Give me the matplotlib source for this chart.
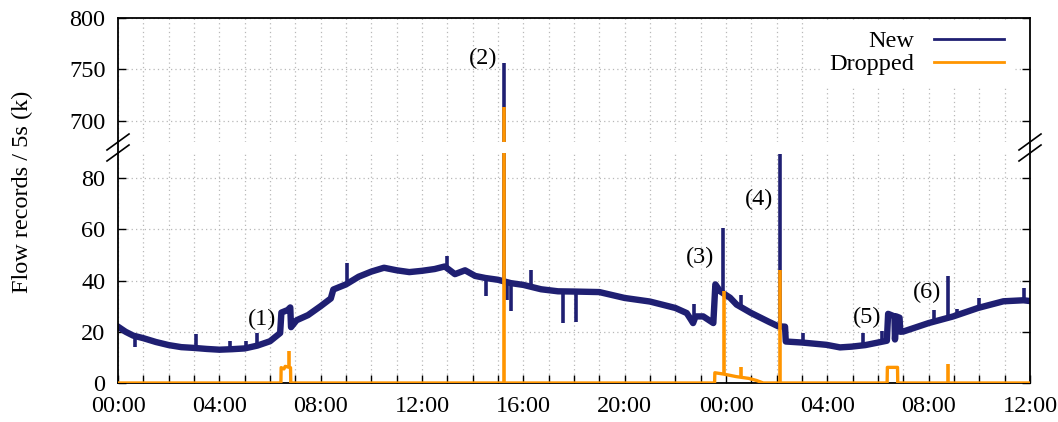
import matplotlib
matplotlib.use("Agg")
import matplotlib.pyplot as plt
from matplotlib.lines import Line2D
from matplotlib.patches import Polygon

plt.rcParams['font.family'] = ['Liberation Serif', 'DejaVu Serif']

# hours since 00:00 of day 1, values in thousands of flow records per 5 s
new_t = [0.0, 0.3, 0.6, 1.0, 1.5, 2.0, 2.5, 3.0, 3.5, 4.0, 4.5, 5.0, 5.5, 6.0, 6.4,
         6.45, 6.7, 6.8, 6.83, 7.05, 7.5, 8.0, 8.4, 8.5, 9.0, 9.5, 10.0, 10.5, 11.0,
         11.5, 12.0, 12.5, 12.9, 13.3, 13.7, 14.1, 14.5, 15.0, 15.5, 16.0, 16.7, 17.37,
         18.04, 19.0, 20.0, 21.0, 22.0, 22.45, 22.6, 22.7, 22.8, 23.1, 23.5, 23.58,
         23.77, 24.16, 24.42, 25.0, 25.67, 26.07, 26.33, 26.36, 27.0, 27.97, 28.5,
         28.96, 29.5, 30.0, 30.35, 30.4, 30.65, 30.67, 30.72, 30.85, 30.88, 31.0, 32.0,
         32.97, 33.95, 34.95, 35.74, 36.0]
new_v = [22.0, 20.0, 18.5, 17.5, 16.0, 14.8, 14.0, 13.7, 13.3, 13.0, 13.2, 13.5, 14.6,
         16.3, 19.5, 27.5, 28.5, 29.5, 21.8, 24.5, 26.5, 30.0, 33.0, 36.5, 38.5, 41.5,
         43.5, 45.0, 44.0, 43.3, 43.8, 44.5, 45.5, 42.5, 44.0, 41.8, 41.0, 40.3, 39.0,
         38.3, 36.6, 35.8, 35.7, 35.5, 33.2, 31.8, 29.3, 27.3, 25.0, 23.4, 26.0, 26.0,
         23.4, 38.5, 35.8, 33.3, 30.6, 27.3, 24.0, 22.1, 22.0, 16.2, 15.8, 14.9, 13.9,
         14.2, 14.8, 15.8, 16.5, 27.0, 26.0, 17.0, 26.0, 25.5, 20.0, 20.1, 23.4, 26.0,
         29.3, 31.9, 32.3, 32.0]

# one-sample spikes of the New series: time, low end, high end
new_spike_t = [0.67, 3.08, 4.42, 5.05, 5.47, 9.03, 13.0, 14.52, 15.25, 15.35, 15.53,
               16.3, 17.57, 18.07, 22.75, 23.9, 24.6, 26.13, 27.05, 29.42, 30.15, 32.2,
               32.75, 33.1, 33.97, 35.75]
new_spike_lo = [14.2, 13.7, 13.2, 13.5, 14.5, 38.5, 45.0, 33.8, 40.0, 32.5, 28.0, 38.0,
                23.5, 24.0, 24.0, 35.0, 30.0, 22.1, 15.8, 14.8, 16.0, 23.6, 25.5, 26.3,
                29.4, 32.3]
new_spike_hi = [18.3, 19.0, 16.5, 16.5, 19.5, 47.0, 49.5, 41.0, 756.0, 39.5, 39.0, 44.3,
                35.8, 35.7, 31.0, 60.7, 34.5, 89.4, 19.7, 19.6, 20.4, 28.6, 41.7, 29.0,
                33.0, 37.0]

drop_t = [0.0, 6.43, 6.44, 6.55, 6.6, 6.81, 6.82, 23.55, 23.56, 23.9, 24.4, 24.9, 25.2,
          25.47, 30.36, 30.37, 30.77, 30.78, 36.0]
drop_v = [0.0, 0.0, 6.0, 5.5, 6.5, 6.0, 0.0, 0.0, 4.0, 3.5, 2.5, 1.8, 1.0, 0.0, 0.0,
          6.1, 6.1, 0.0, 0.0]

drop_spike_t = [6.75, 15.25, 23.93, 24.61, 26.13, 32.75]
drop_spike_lo = [6.0, 0.0, 3.5, 2.3, 0.0, 0.0]
drop_spike_hi = [12.3, 714.0, 35.8, 6.1, 44.3, 7.4]

notes = ["(1)", "(2)", "(3)", "(4)", "(5)", "(6)"]
note_t = [5.69, 14.4, 22.98, 25.3, 29.57, 31.94]
note_v = [24.7, 761, 49, 71.8, 25.5, 35.3]

tick_hours = list(range(0, 37, 4))
tick_labels = ["%02d:00" % (h % 24) for h in tick_hours]

navy = '#1f1f72'
orange = '#ff9500'
fs = 17.5

W, H = 1058, 422
fig = plt.figure(figsize=(W / 100, H / 100), dpi=100)
L, R = 118, 1030
top_ax = fig.add_axes([L / W, (H - 142) / H, (R - L) / W, 124 / H])
bot_ax = fig.add_axes([L / W, (H - 383) / H, (R - L) / W, 230 / H])

for ax in (top_ax, bot_ax):
    ax.plot(new_t, new_v, color=navy, lw=4.6, label='New', zorder=2)
    ax.vlines(new_spike_t, new_spike_lo, new_spike_hi, color=navy, lw=2.6, zorder=2)
    ax.plot(drop_t, drop_v, color=orange, lw=2.4, label='Dropped', zorder=3)
    ax.vlines(drop_spike_t, drop_spike_lo, drop_spike_hi, color=orange, lw=2.6, zorder=3)
    ax.set_xlim(0, 36)
    ax.set_xticks(range(0, 37))
    ax.grid(True, color='#b8b8b8', linestyle=(0, (1, 2.5)), linewidth=0.9)
    ax.tick_params(direction='in', length=6, width=1, right=True, labelsize=fs)
    ax.tick_params(axis='y', pad=9)
    ax.tick_params(axis='x', pad=9)
    for s in ax.spines.values():
        s.set_linewidth(1.3)

top_ax.set_ylim(679.6, 800)
top_ax.set_yticks([700, 750, 800])
top_ax.spines['bottom'].set_visible(False)
top_ax.tick_params(axis='x', bottom=False, labelbottom=False)

bot_ax.set_ylim(0, 89.8)
bot_ax.set_yticks([0, 20, 40, 60, 80])
bot_ax.spines['top'].set_visible(False)
bot_ax.set_xticklabels([tick_labels[h // 4] if h % 4 == 0 else "" for h in range(0, 37)])

for txt, t, v in zip(notes, note_t, note_v):
    ax = top_ax if v > 100 else bot_ax
    ax.text(t, v, txt, fontsize=fs, ha='center', va='center', zorder=5)

leg = top_ax.legend(loc='upper right', markerfirst=False, fontsize=fs, handlelength=2.9,
                    frameon=True, framealpha=1, edgecolor='white', fancybox=False,
                    borderaxespad=0.1, labelspacing=0.05, handletextpad=0.8,
                    bbox_to_anchor=(0.985, 1.0))
for line in leg.get_lines():
    line.set_linewidth(2)

fig.text(22 / W, (H - 192) / H, "Flow records / 5s (k)", rotation=90, fontsize=fs,
         ha='center', va='center')

# axis break marks on both sides
for xc in (L, R):
    fig.add_artist(Line2D([xc / W, xc / W], [(H - 142) / H, (H - 153) / H],
                          color='black', lw=1.3))
    pts = [((xc - 11) / W, (H - 150) / H), ((xc + 11) / W, (H - 134) / H),
           ((xc + 11) / W, (H - 145) / H), ((xc - 11) / W, (H - 161) / H)]
    fig.add_artist(Polygon(pts, closed=True, facecolor='white', edgecolor='none'))
    for yc in (142, 153):
        fig.add_artist(Line2D([(xc - 11) / W, (xc + 11) / W],
                              [(H - yc - 8) / H, (H - yc + 8) / H],
                              color='black', lw=1.2))

fig.savefig("out.png", dpi=100)
